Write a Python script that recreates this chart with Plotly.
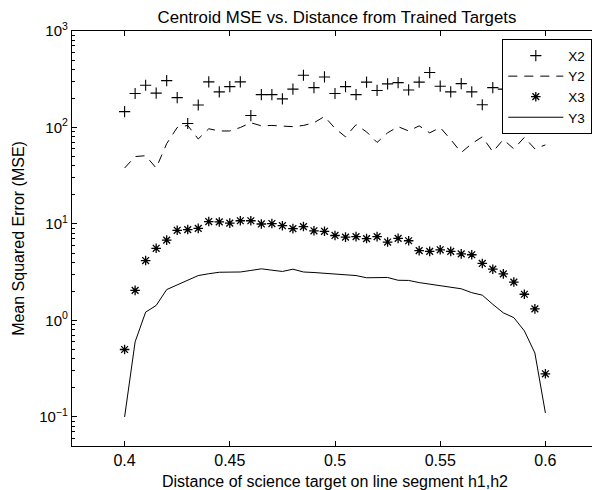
import plotly.graph_objects as go

# distances along segment h1,h2 (0.4 .. 0.6, step 0.005)
distance = [round(0.4 + 0.005 * i, 3) for i in range(41)]

x2_mse = [146, 225, 274, 227, 306, 204, 110, 171, 297, 234,
          265, 297, 133, 219, 219, 198, 250, 348, 259, 334,
          225, 265, 219, 295, 242, 283, 292, 245, 295, 371,
          268, 234, 285, 234, 172, 259, 250, 300, 220, 280, 260]

y2_mse = [38, 50, 51, 38, 68, 100, 105, 76, 97, 92,
          92, 100, 112, 104, 105, 104, 102, 105, 112, 130,
          98, 80, 107, 90, 70, 88, 102, 92, 104, 88,
          100, 75, 55, 68, 80, 56, 75, 60, 79, 60, 66]

x3_mse = [0.50, 2.05, 4.18, 5.6, 6.8, 8.6, 8.75, 9.0, 10.6, 10.5,
          10.2, 10.8, 10.8, 10.0, 10.1, 9.6, 8.95, 9.4, 8.5, 8.4,
          7.6, 7.3, 7.4, 7.06, 7.4, 6.5, 7.1, 6.7, 5.3, 5.2,
          5.4, 5.2, 4.9, 4.8, 3.9, 3.4, 3.04, 2.5, 1.87, 1.32, 0.28]

y3_mse = [0.10, 0.60, 1.22, 1.43, 2.09, 2.35, 2.61, 2.92, 3.05, 3.16,
          3.17, 3.18, 3.3, 3.43, 3.32, 3.22, 3.4, 3.18, 3.14, 3.09,
          3.01, 3.01, 2.92, 2.77, 2.77, 2.79, 2.61, 2.6, 2.47, 2.38,
          2.29, 2.24, 2.13, 1.94, 1.83, 1.47, 1.2, 1.07, 0.78, 0.46, 0.11]

x_tickvals = [0.4, 0.45, 0.5, 0.55, 0.6]
x_ticktext = ["0.4", "0.45", "0.5", "0.55", "0.6"]
y_tickvals = [0.1, 1, 10, 100, 1000]
y_ticktext = ["10<sup>\u22121</sup>", "10<sup>0</sup>", "10<sup>1</sup>",
              "10<sup>2</sup>", "10<sup>3</sup>"]
y_minor = [m * 10 ** k for k in range(-2, 3) for m in range(2, 10)]

FONT = "Arial, Liberation Sans, Helvetica, sans-serif"

fig = go.Figure()
fig.add_trace(go.Scatter(x=distance, y=x2_mse, mode="markers", name="X2",
                         marker=dict(symbol="cross-thin", size=8, color="black",
                                     line=dict(color="black", width=1.1))))
fig.add_trace(go.Scatter(x=distance, y=y2_mse, mode="lines", name="Y2",
                         line=dict(color="black", width=1, dash="9px,7px")))
fig.add_trace(go.Scatter(x=distance, y=x3_mse, mode="markers", name="X3",
                         marker=dict(symbol="asterisk-open", size=8, color="black",
                                     line=dict(color="black", width=1.3))))
fig.add_trace(go.Scatter(x=distance, y=y3_mse, mode="lines", name="Y3",
                         line=dict(color="black", width=1)))

# page has an 8px body margin, so the figure is 592x482 placed at (8, 8)
fig.update_layout(
    width=592, height=482,
    margin=dict(l=64, r=2, t=23, b=44),
    paper_bgcolor="white", plot_bgcolor="white",
    font=dict(family=FONT, size=15, color="black"),
    title=dict(text="Centroid MSE vs. Distance from Trained Targets",
               x=0.5557, xanchor="center", y=0.9803, yanchor="middle",
               font=dict(family=FONT, size=16.8, color="black")),
    showlegend=True,
    legend=dict(x=0.9886, xanchor="right", y=0.9807, yanchor="top",
                bordercolor="black", borderwidth=1.3, bgcolor="white",
                font=dict(size=13.5), tracegroupgap=0, itemwidth=55),
)
fig.update_xaxes(range=[0.375, 0.625], tickvals=x_tickvals, ticktext=x_ticktext,
                 ticks="inside", ticklen=5, tickcolor="black",
                 showline=True, linecolor="black", linewidth=1.3, mirror="ticks",
                 showgrid=False, zeroline=False, tickfont=dict(size=16),
                 title=dict(text="Distance of science target on line segment h1,h2",
                            font=dict(size=16), standoff=7))
fig.update_yaxes(type="log", range=[-1.301, 3], tickvals=y_tickvals, ticktext=y_ticktext,
                 ticks="inside", ticklen=5, tickcolor="black",
                 showline=True, linecolor="black", linewidth=1.3, mirror="ticks",
                 showgrid=False, zeroline=False, tickfont=dict(size=15),
                 ticklabelstandoff=0,
                 minor=dict(tickvals=y_minor, ticks="inside", ticklen=3,
                            tickcolor="black", showgrid=False),
                 title=dict(text="Mean Squared Error (MSE)", font=dict(size=16),
                            standoff=10))

fig.write_html("out.html")
